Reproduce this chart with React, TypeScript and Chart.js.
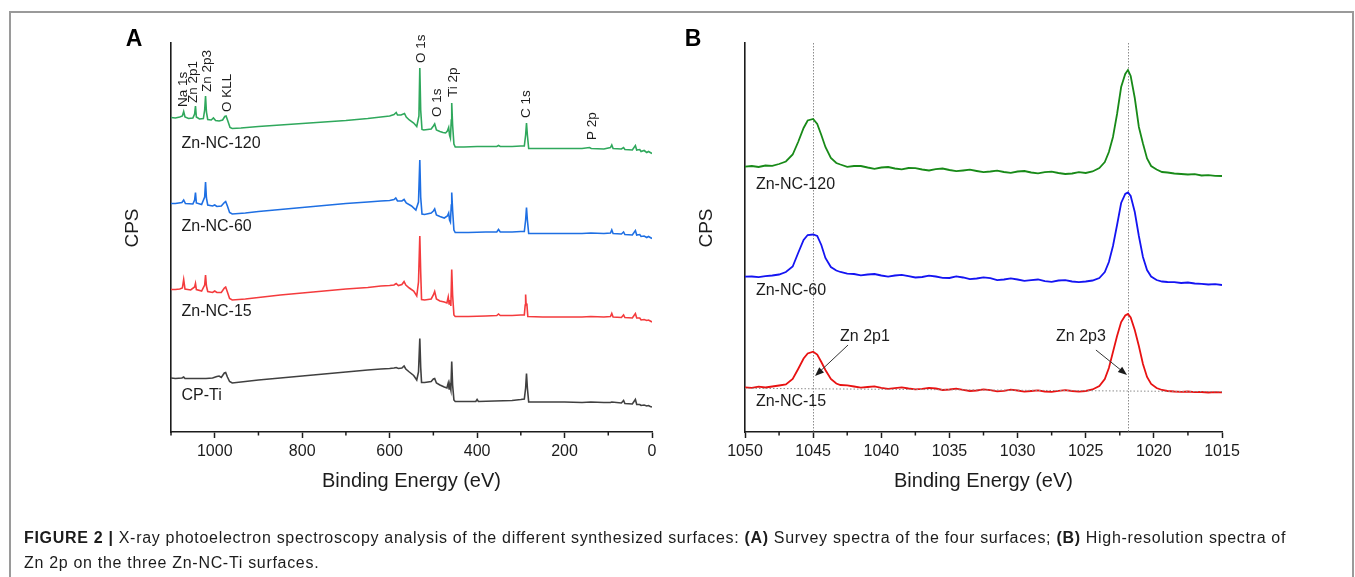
import React, { useEffect, useRef } from "react";
import { Chart, registerables } from "chart.js";

Chart.register(...registerables);

const FONT = '"Liberation Sans", Arial, Helvetica, sans-serif';
const INK = "#1c1c1c";
Chart.defaults.font.family = FONT;

// ---------------- Panel A: survey spectra (binding energy eV, intensity in arbitrary CPS units) ----------------
const surveyXTicks = [1000, 800, 600, 400, 200, 0];
const surveyMinorXTicks = [1100, 900, 700, 500, 300, 100];

const zn120SurveyEnergy = [1100,1090,1080,1074,1071,1068,1060,1050,1046,1044,1042,1035,1026,1023,1021,1019,1016,1008,1003,998,990,982,977,974,970,965,960,940,900,850,800,750,700,650,620,600,590,585,582,574,566,562,555,545,538,533,531,529,526,522,505,500,497,493,485,478,472,468,465,463,461,459,458,456,453,450,430,400,355,351,347,320,300,292,289,287,285,282,250,200,160,143,139,110,95,92,89,70,65,62,45,38,35,28,25,18,12,8,4,0];
const zn120SurveyCps = [314.5,314,315,316,320.5,315,313.5,314,318,326,315,313,313.5,322,336,320,312.5,312,314,311.5,311,312,315.5,316,311,304.5,303.5,304,305.5,307,308.5,310,311.5,313.5,315,316,317.5,319.5,317,317,318.5,315,312,309,305.5,316,364,322,302.5,302,303,306,308,302,300.5,299.5,299,301,304.5,297,294,312,329,307,288,285,285,285.5,285.5,286.5,285.5,285.5,286,286,297,309,297,283.5,283.5,283.5,283.5,284.5,283.5,283,284.5,287,283.5,283,284.5,282.5,282,286.5,282,282.5,280.5,281.5,279.5,280.5,279.5,278.5];

const zn60SurveyEnergy = [1100,1090,1075,1071,1067,1050,1046,1044,1042,1030,1023,1021,1019,1016,1005,1000,995,985,978,975,971,966,960,930,900,850,800,750,700,650,620,600,590,586,582,572,567,562,550,540,534,531,529,526,520,505,500,497,493,485,475,468,465,463,461,459,458,456,453,450,420,380,355,351,347,320,300,292,289,287,285,282,250,200,160,140,110,95,92,89,70,65,62,45,38,35,28,25,18,12,8,4,0];
const zn60SurveyCps = [228.5,228.5,229.5,232,228.5,228,232,239.5,229,227.5,235,250,234,227,226,227,225.5,226,229.5,230.5,226,219.5,218,219,220.5,222.5,224.5,226.5,228.5,230,231,231.5,232.5,234,231,231,232.5,229,226,222,230,272,235,218,217.5,219,221,223,217,215.5,214,216,219,212,210,227,239.5,222,202,199.5,199.5,200,200,202.5,200,200,200.5,200.5,212,224.5,212,198.5,198.5,198.5,198.5,199,198.5,199,202,198.5,198,200,197.5,197,201.5,197,197.5,195.5,196,194.5,195.5,194.5,193.5];

const zn15SurveyEnergy = [1100,1090,1080,1074,1071,1068,1055,1046,1044,1042,1030,1023,1021,1019,1016,1005,1000,995,985,978,975,971,966,960,930,900,850,800,750,700,650,620,600,590,585,580,572,567,563,555,545,538,534,531,529,527,520,505,500,497,493,485,475,469,466,464,462,460,458,456,453,450,420,380,355,351,347,320,300,292,290,289,288,286,284,250,200,160,140,110,95,92,89,70,65,62,45,38,35,28,25,18,12,8,4,0];
const zn15SurveyCps = [142.5,142.5,143,144,152.5,143,142,145,148.5,142.5,141,147,157,146,140.5,139.5,141,139.5,139.5,144,145,140,133.5,132,133,134.5,137,139,141,143,144.5,146,146.5,147,148.5,146.5,147.5,150.5,147,144,141,136,150,196,160,132.5,132,133,137,140.5,133,131,130,129,135,128,132,126,162.5,137,117,115.5,115.5,116,116.5,118,116.5,116.5,117,117,127,137.5,128.5,127,115.5,115,115,115,115.5,115,115.5,118.5,115,114.5,117,114.5,114,118.5,114,114,112,112.5,111.5,112,111,110];

const cpTiSurveyEnergy = [1100,1090,1075,1071,1068,1050,1040,1020,1005,995,990,985,978,975,971,966,960,930,900,850,800,750,700,650,620,600,590,585,580,572,567,563,555,545,538,534,531,529,527,520,505,500,497,493,485,475,469,466,464,462,460,458,456,453,450,420,403,400,397,360,320,300,292,289,287,285,282,250,200,160,140,110,95,92,70,65,62,45,38,35,28,25,18,12,8,4,0];
const cpTiSurveyCps = [54,53.5,54,55,53.5,53.5,53.5,53.5,54,55.5,56,54.5,59,59.5,55,50.5,49,50.5,52,54,56,58,60,62,63,63.5,64,64.5,63.5,64,66,63,60,56.5,52,60,93.5,65,49.5,49.5,50.5,53,53.5,49,47,45,44,49,43,46,42,70.5,47,32,30.5,30.5,30.5,32.5,30.5,31,31.5,32.5,33,44,58.5,44,30,30,30,29.5,30,29.5,29.5,30,29,31.5,28.5,28,32.5,27.5,27.5,26.5,27,26,26.5,25.5,25];

const surveyPeakNames = ["Na 1s", "Zn 2p1", "Zn 2p3", "O KLL", "O 1s", "O 1s", "Ti 2p", "C 1s", "P 2p"];
const surveyPeakNameEnergy = [1072.7, 1048.7, 1016.7, 972.1, 527.5, 491.7, 455.5, 287.5, 136.7];
const surveyPeakNameLevel = [325, 329, 340, 320, 369, 315, 335, 314, 292];

const surveySampleNames = ["Zn-NC-120", "Zn-NC-60", "Zn-NC-15", "CP-Ti"];
const surveySampleNameEnergy = 1076;
const surveySampleNameLevel = [288.7, 205.3, 120.3, 36];

// ---------------- Panel B: Zn 2p high-resolution spectra ----------------
const zoomXTicks = [1050, 1045, 1040, 1035, 1030, 1025, 1020, 1015];
const zoomMinorXTicks = [1047.5, 1042.5, 1037.5, 1032.5, 1027.5, 1022.5, 1017.5];

const zoomEnergy = [1050,1049.5,1049,1048.5,1048,1047.5,1047,1046.5,1046.1,1045.7,1045.4,1045,1044.7,1044.4,1044.1,1043.7,1043.3,1043,1042.5,1042,1041.5,1041,1040.5,1040,1039.5,1039,1038.5,1038,1037.5,1037,1036.5,1036,1035.5,1035,1034.5,1034,1033.5,1033,1032.5,1032,1031.5,1031,1030.5,1030,1029.5,1029,1028.5,1028,1027.5,1027,1026.5,1026,1025.5,1025,1024.5,1024,1023.6,1023.3,1023,1022.7,1022.4,1022.1,1021.9,1021.7,1021.4,1021.1,1020.8,1020.5,1020.2,1019.8,1019.4,1019,1018.5,1018,1017.5,1017,1016.5,1016,1015.5,1015];
const zn120ZoomCps = [265.3,266,265,266.5,266.2,268,270.5,277.5,290,304,311.5,313,308,297,285,274,269,267.5,265.2,266,266,264.5,263.2,264.5,265,263.5,262.6,264,263.8,262.5,261.5,262.8,263.5,262,260.8,261.5,262.3,261,259.8,260.5,261.4,260,259.2,260.5,261,259.5,258.6,259.8,260.3,259,258,258.5,259.8,259,260.5,264,270,280,295,318,345,358,362,356,334,305,288.5,273.5,266,262.5,260,259.5,258.5,258,257.5,257.8,256.5,256.8,256.2,256];
const zn60ZoomCps = [155.3,155.5,154.8,155.8,156.5,157.5,160,165.5,179,192,197,197.5,196,187,174,165,161.5,160,158.4,158,156.6,157.5,158,156.5,155.4,156.5,157.2,155.8,154.5,155,156.3,155.5,154.2,154,155.6,154.5,152.8,153.5,154.6,153.8,151.9,152.5,153.7,152.5,151.2,151.8,152.5,150.8,150.2,151.5,151.8,150.5,149.8,150.5,151.5,154,160,170,186,207,229,238,239.5,236,220,196,175,162,155.5,152,150.5,150,149.8,149,149.5,148.5,148.2,147.5,147.8,147];
const zn15ZoomCps = [44.7,44.2,45.3,44.5,45.5,46.5,47.5,53,63,73.5,78.5,80.3,77.5,70,62,53,48.5,47,46.6,45.5,44.3,45,45.6,44.2,43.1,43.8,44.6,43.5,42.6,43.2,44.2,43.5,42,42.5,43.3,42.2,41,41.5,42.6,41.8,40.7,41.2,42.3,41.5,40.4,41,41.6,40.5,40.1,41.2,41.8,41,40.4,41,42.5,46,53,64,80,96,110,116.5,118,114.5,102,86,68,55,48,44,42,41,40.5,40.2,40.5,39.8,40,39.5,39.8,39.7];
const zn15BaselineEnergy = [1050, 1015];
const zn15BaselineCps = [43.7, 40.3];

const zoomPeakEnergy = [1045, 1021.9];
const zoomPeakNames = ["Zn 2p1", "Zn 2p3"];
const zoomPeakNameEnergy = [1041.2, 1025.35];
const zoomPeakNameLevel = [95, 95];
const zoomArrowTailEnergy = [1042.44, 1024.25];
const zoomArrowTailLevel = [87, 82];
const zoomArrowTipEnergy = [1044.86, 1021.97];
const zoomArrowTipLevel = [56, 57];

const zoomSampleNames = ["Zn-NC-120", "Zn-NC-60", "Zn-NC-15"];
const zoomSampleNameEnergy = 1049.2;
const zoomSampleNameLevel = [247, 141.3, 30.3];

const CPS_MAX = 389;

function zip(xs: number[], ys: number[]) {
  return xs.map((x, i) => ({ x, y: ys[i] }));
}

function line(label: string, xs: number[], ys: number[], color: string, width: number, dash?: number[]) {
  return {
    label,
    data: zip(xs, ys),
    borderColor: color,
    backgroundColor: color,
    borderWidth: width,
    pointRadius: 0,
    tension: 0,
    borderDash: dash || [],
    fill: false,
  };
}

function xAxis(min: number, max: number, ticks: number[]) {
  return {
    type: "linear",
    min,
    max,
    reverse: true,
    afterBuildTicks: (s: any) => {
      s.ticks = ticks.map((v) => ({ value: v }));
    },
    afterFit: (s: any) => {
      s.height = 60;
    },
    ticks: {
      font: { size: 16, family: FONT },
      color: INK,
      padding: 4,
      maxRotation: 0,
      autoSkip: false,
      callback: (v: any) => String(v),
    },
    grid: { drawOnChartArea: false, drawTicks: true, tickLength: 6, tickWidth: 1.5, tickColor: INK },
    border: { display: true, color: INK, width: 1.6 },
  };
}

function yAxis() {
  return {
    type: "linear",
    min: 0,
    max: CPS_MAX,
    afterFit: (s: any) => {
      s.width = 0;
    },
    ticks: { display: false },
    grid: { display: false },
    border: { display: true, color: INK, width: 1.6 },
  };
}

function drawMinorTicks(chart: any, values: number[]) {
  const { ctx, chartArea, scales } = chart;
  ctx.save();
  ctx.strokeStyle = INK;
  ctx.lineWidth = 1.5;
  for (const v of values) {
    const px = scales.x.getPixelForValue(v);
    ctx.beginPath();
    ctx.moveTo(px, chartArea.bottom);
    ctx.lineTo(px, chartArea.bottom + 3.5);
    ctx.stroke();
  }
  ctx.restore();
}

function drawTitles(chart: any, letter: string) {
  const { ctx, chartArea } = chart;
  ctx.save();
  ctx.fillStyle = INK;
  ctx.font = `20px ${FONT}`;
  ctx.textAlign = "center";
  ctx.textBaseline = "middle";
  ctx.fillText("Binding Energy (eV)", (chartArea.left + chartArea.right) / 2, chartArea.bottom + 49);
  ctx.save();
  ctx.translate(chartArea.left - 38.5, chartArea.top + 185);
  ctx.rotate(-Math.PI / 2);
  ctx.font = `19px ${FONT}`;
  ctx.fillText("CPS", 0, 0);
  ctx.restore();
  ctx.font = `bold 23px ${FONT}`;
  ctx.textBaseline = "alphabetic";
  ctx.fillStyle = "#000";
  ctx.fillText(letter, chartArea.left - (letter === "A" ? 37 : 52), chartArea.top + 2.5);
  ctx.restore();
}

const surveyDecor = {
  id: "surveyDecor",
  afterDraw(chart: any) {
    const { ctx, scales } = chart;
    drawMinorTicks(chart, surveyMinorXTicks);
    ctx.save();
    ctx.fillStyle = INK;
    ctx.font = `13.5px ${FONT}`;
    ctx.textAlign = "left";
    ctx.textBaseline = "middle";
    surveyPeakNames.forEach((t, i) => {
      const px = scales.x.getPixelForValue(surveyPeakNameEnergy[i]);
      const py = scales.y.getPixelForValue(surveyPeakNameLevel[i]);
      ctx.save();
      ctx.translate(px, py);
      ctx.rotate(-Math.PI / 2);
      ctx.fillText(t, 0, 0);
      ctx.restore();
    });
    ctx.font = `16px ${FONT}`;
    surveySampleNames.forEach((t, i) => {
      ctx.fillText(t, scales.x.getPixelForValue(surveySampleNameEnergy), scales.y.getPixelForValue(surveySampleNameLevel[i]));
    });
    ctx.restore();
    drawTitles(chart, "A");
  },
};

function drawArrow(ctx: any, x1: number, y1: number, x2: number, y2: number) {
  const ang = Math.atan2(y2 - y1, x2 - x1);
  const len = 9;
  const hw = 3.5;
  ctx.beginPath();
  ctx.moveTo(x1, y1);
  ctx.lineTo(x2 - Math.cos(ang) * len * 0.8, y2 - Math.sin(ang) * len * 0.8);
  ctx.stroke();
  ctx.beginPath();
  ctx.moveTo(x2, y2);
  ctx.lineTo(x2 - Math.cos(ang) * len - Math.sin(ang) * hw, y2 - Math.sin(ang) * len + Math.cos(ang) * hw);
  ctx.lineTo(x2 - Math.cos(ang) * len + Math.sin(ang) * hw, y2 - Math.sin(ang) * len - Math.cos(ang) * hw);
  ctx.closePath();
  ctx.fill();
}

const zoomDecor = {
  id: "zoomDecor",
  beforeDatasetsDraw(chart: any) {
    const { ctx, chartArea, scales } = chart;
    ctx.save();
    ctx.strokeStyle = "#8c8c8c";
    ctx.lineWidth = 1;
    ctx.setLineDash([1.5, 1.5]);
    zoomPeakEnergy.forEach((e) => {
      const px = Math.round(scales.x.getPixelForValue(e)) + 0.5;
      ctx.beginPath();
      ctx.moveTo(px, chartArea.top);
      ctx.lineTo(px, chartArea.bottom);
      ctx.stroke();
    });
    ctx.restore();
  },
  afterDraw(chart: any) {
    const { ctx, scales } = chart;
    drawMinorTicks(chart, zoomMinorXTicks);
    ctx.save();
    ctx.fillStyle = INK;
    ctx.strokeStyle = "#333";
    ctx.lineWidth = 1;
    ctx.font = `16px ${FONT}`;
    ctx.textAlign = "left";
    ctx.textBaseline = "middle";
    zoomSampleNames.forEach((t, i) => {
      ctx.fillText(t, scales.x.getPixelForValue(zoomSampleNameEnergy), scales.y.getPixelForValue(zoomSampleNameLevel[i]));
    });
    ctx.textAlign = "center";
    zoomPeakNames.forEach((t, i) => {
      ctx.fillText(t, scales.x.getPixelForValue(zoomPeakNameEnergy[i]), scales.y.getPixelForValue(zoomPeakNameLevel[i]));
      drawArrow(
        ctx,
        scales.x.getPixelForValue(zoomArrowTailEnergy[i]),
        scales.y.getPixelForValue(zoomArrowTailLevel[i]),
        scales.x.getPixelForValue(zoomArrowTipEnergy[i]),
        scales.y.getPixelForValue(zoomArrowTipLevel[i])
      );
    });
    ctx.restore();
    drawTitles(chart, "B");
  },
};

function baseOptions(padLeft: number, padRight: number, xmin: number, xmax: number, ticks: number[]) {
  return {
    animation: false,
    responsive: false,
    events: [],
    layout: { padding: { left: padLeft, right: padRight, top: 43, bottom: 85 } },
    plugins: { legend: { display: false }, tooltip: { enabled: false }, title: { display: false } },
    scales: { x: xAxis(xmin, xmax, ticks), y: yAxis() },
  };
}

export default function App() {
  const refA = useRef<HTMLCanvasElement>(null);
  const refB = useRef<HTMLCanvasElement>(null);

  useEffect(() => {
    const chartA = new Chart(refA.current as HTMLCanvasElement, {
      type: "line",
      data: {
        datasets: [
          line("Zn-NC-120", zn120SurveyEnergy, zn120SurveyCps, "#2fa85c", 1.6),
          line("Zn-NC-60", zn60SurveyEnergy, zn60SurveyCps, "#1e6fe3", 1.6),
          line("Zn-NC-15", zn15SurveyEnergy, zn15SurveyCps, "#f43b3d", 1.6),
          line("CP-Ti", cpTiSurveyEnergy, cpTiSurveyCps, "#404040", 1.6),
        ] as any,
      },
      options: baseOptions(171, 1355 - 652, 0, 1100, surveyXTicks) as any,
      plugins: [surveyDecor],
    });
    const chartB = new Chart(refB.current as HTMLCanvasElement, {
      type: "line",
      data: {
        datasets: [
          line("Zn-NC-15 baseline", zn15BaselineEnergy, zn15BaselineCps, "#8c8c8c", 1, [1.5, 2]),
          line("Zn-NC-120", zoomEnergy, zn120ZoomCps, "#188a18", 1.8),
          line("Zn-NC-60", zoomEnergy, zn60ZoomCps, "#1414f2", 1.8),
          line("Zn-NC-15", zoomEnergy, zn15ZoomCps, "#e81212", 1.8),
        ] as any,
      },
      options: baseOptions(745, 1355 - 1222, 1015, 1050, zoomXTicks) as any,
      plugins: [zoomDecor],
    });
    return () => {
      chartA.destroy();
      chartB.destroy();
    };
  }, []);

  return (
    <div style={{ position: "absolute", left: 0, top: 0, width: 1355, height: 577, overflow: "hidden", background: "#fff" }}>
      <div
        style={{
          position: "absolute",
          left: 9,
          top: 11,
          width: 1345,
          height: 700,
          border: "2px solid #9a9a9a",
          boxSizing: "border-box",
        }}
      />
      <canvas ref={refA} width={1355} height={577} style={{ position: "absolute", left: 0, top: 0 }} />
      <canvas ref={refB} width={1355} height={577} style={{ position: "absolute", left: 0, top: 0 }} />
      <div
        style={{
          position: "absolute",
          left: 24,
          top: 525,
          width: 1320,
          fontFamily: FONT,
          fontSize: 16,
          lineHeight: "25px",
          letterSpacing: "0.69px",
          color: INK,
          whiteSpace: "nowrap",
        }}
      >
        <b>FIGURE 2 |</b> X-ray photoelectron spectroscopy analysis of the different synthesized surfaces: <b>(A)</b> Survey
        spectra of the four surfaces; <b>(B)</b> High-resolution spectra of
        <br />
        Zn 2p on the three Zn-NC-Ti surfaces.
      </div>
    </div>
  );
}
